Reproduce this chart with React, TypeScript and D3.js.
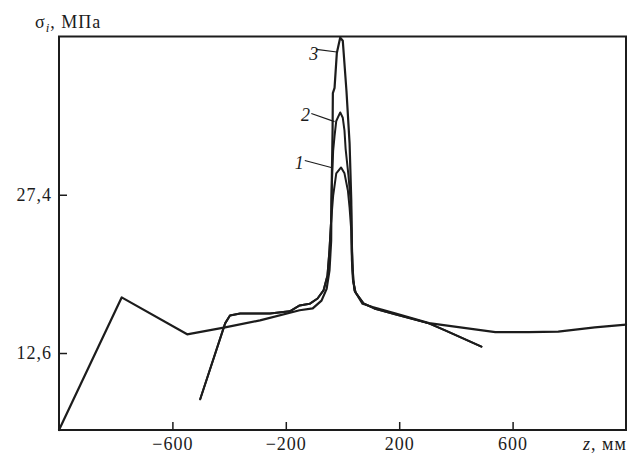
import { useRef, useEffect } from 'react'
import * as d3 from 'd3'

const WIDTH = 635
const HEIGHT = 458
const FRAME = { left: 59, right: 626, top: 36.5, bottom: 430 }

const X_DOMAIN = [-1000, 1000]
const Y_DOMAIN = [5.4, 42.2]
const X_TICKS = [-600, -200, 200, 600]
const Y_TICKS = [12.6, 27.4]
const Y_TICK_LABELS = ['12,6', '27,4']

// curve 3: zigzag from the corner, tallest peak, long right tail
const Z3 = [-1000, -779, -548, -414, -291, -151, -105, -74, -56, -46, -40, -39, -35, -34, -28, -20, -8, 1, 14, 25, 31, 33, 36, 42, 71, 106, 188, 305, 422, 539, 656, 761, 890, 1000]
const S3 = [5.4, 17.8, 14.35, 15.0, 15.65, 16.6, 16.77, 17.5, 18.6, 20.3, 23.1, 26.8, 33.4, 36.9, 37.4, 40.65, 42.1, 41.8, 37.1, 32.2, 26.85, 22.2, 20.3, 18.45, 17.2, 16.9, 16.3, 15.4, 14.97, 14.56, 14.56, 14.6, 15.0, 15.25]

// curve 1: starts low, lowest peak, short right tail
const Z1 = [-502, -414, -397, -361, -256, -186, -151, -116, -88, -67, -53, -46, -40, -33, -22, -5, 7, 19, 25, 31, 33, 37, 46, 74, 112, 189, 305, 364, 490]
const S1 = [8.28, 15.37, 16.1, 16.3, 16.3, 16.5, 17.05, 17.2, 17.7, 18.45, 19.85, 22.2, 25.0, 27.3, 29.4, 29.95, 29.4, 27.8, 26.2, 24.05, 21.25, 19.4, 18.26, 17.24, 16.77, 16.2, 15.37, 14.7, 13.2]

// curve 2: same flanks as curve 1, middle peak
const Z2 = [-502, -414, -397, -361, -256, -186, -151, -116, -88, -67, -53, -46, -40, -37, -33, -28, -22, -8, 1, 7, 11, 21, 30, 33, 37, 46, 74, 112, 189, 305, 364, 490]
const S2 = [8.28, 15.37, 16.1, 16.3, 16.3, 16.5, 17.05, 17.2, 17.7, 18.45, 19.85, 22.2, 25.0, 28.8, 31.5, 32.9, 34.3, 35.1, 34.6, 33.4, 31.7, 29.2, 26.4, 23.1, 19.4, 18.26, 17.24, 16.77, 16.2, 15.37, 14.7, 13.2]

// curve labels: text anchor point and leader line (from, to) in data units
const LABELS = [
  { text: '3', at: [-117, 40.6], from: [-92, 41.0], to: [-20, 40.75] },
  { text: '2', at: [-146, 34.9], from: [-110, 35.0], to: [-28, 34.24] },
  { text: '1', at: [-168, 30.4], from: [-133, 30.6], to: [-40, 29.95] },
]

const FONT = '"Liberation Serif", "DejaVu Serif", serif'
const INK = '#1c1c1c'

export default function App() {
  const svgRef = useRef(null)

  useEffect(() => {
    const svg = d3.select(svgRef.current)
    svg.selectAll('*').remove()

    const x = d3.scaleLinear().domain(X_DOMAIN).range([FRAME.left, FRAME.right])
    const y = d3.scaleLinear().domain(Y_DOMAIN).range([FRAME.bottom, FRAME.top])

    // frame
    svg.append('rect')
      .attr('x', FRAME.left).attr('y', FRAME.top)
      .attr('width', FRAME.right - FRAME.left).attr('height', FRAME.bottom - FRAME.top)
      .attr('fill', 'none').attr('stroke', INK).attr('stroke-width', 2)

    // x axis, ticks pointing inward
    svg.append('g')
      .attr('transform', `translate(0,${FRAME.bottom})`)
      .call(d3.axisBottom(x).tickValues(X_TICKS).tickSize(-8).tickPadding(7).tickFormat(d3.format('d')))
      .call(g => g.select('.domain').remove())
      .call(g => g.selectAll('.tick line').attr('stroke', INK).attr('stroke-width', 1.5))
      .call(g => g.selectAll('text').attr('fill', INK).attr('font-size', 18).attr('font-family', FONT)
        .attr('letter-spacing', 1))

    // y axis, ticks pointing inward
    svg.append('g')
      .attr('transform', `translate(${FRAME.left},0)`)
      .call(d3.axisLeft(y).tickValues(Y_TICKS).tickSize(-8).tickPadding(7)
        .tickFormat((d, i) => Y_TICK_LABELS[i]))
      .call(g => g.select('.domain').remove())
      .call(g => g.selectAll('.tick line').attr('stroke', INK).attr('stroke-width', 1.5))
      .call(g => g.selectAll('text').attr('fill', INK).attr('font-size', 18).attr('font-family', FONT)
        .attr('letter-spacing', 1))

    // axis titles
    const yt = svg.append('text').attr('x', 35).attr('y', 28)
      .attr('font-family', FONT).attr('font-size', 18).attr('fill', INK).attr('letter-spacing', 1)
    yt.append('tspan').text('σ')
    yt.append('tspan').attr('font-style', 'italic').attr('font-size', 13).attr('dy', 4).text('i')
    yt.append('tspan').attr('dy', -4).text(', МПа')

    const xt = svg.append('text').attr('x', 583).attr('y', 450)
      .attr('font-family', FONT).attr('font-size', 18).attr('fill', INK).attr('letter-spacing', 1)
    xt.append('tspan').attr('font-style', 'italic').text('z')
    xt.append('tspan').text(', мм')

    // curves
    const line = d3.line().x(d => x(d[0])).y(d => y(d[1])).curve(d3.curveLinear)
    const series = [
      { z: Z3, s: S3, w: 2.2 },
      { z: Z2, s: S2, w: 2 },
      { z: Z1, s: S1, w: 2 },
    ]
    series.forEach(c => {
      svg.append('path')
        .datum(c.z.map((z, i) => [z, c.s[i]]))
        .attr('d', line)
        .attr('fill', 'none').attr('stroke', INK).attr('stroke-width', c.w)
        .attr('stroke-linejoin', 'round').attr('stroke-linecap', 'round')
    })

    // labels with leaders
    LABELS.forEach(l => {
      svg.append('line')
        .attr('x1', x(l.from[0])).attr('y1', y(l.from[1]))
        .attr('x2', x(l.to[0])).attr('y2', y(l.to[1]))
        .attr('stroke', INK).attr('stroke-width', 1.2)
      svg.append('text')
        .attr('x', x(l.at[0])).attr('y', y(l.at[1]))
        .attr('dy', '0.35em')
        .attr('font-family', FONT).attr('font-style', 'italic').attr('font-size', 18).attr('fill', INK)
        .text(l.text)
    })
  }, [])

  return (
    <div style={{ position: 'absolute', left: 0, top: 0, width: WIDTH, height: HEIGHT, background: '#fff' }}>
      <svg ref={svgRef} width={WIDTH} height={HEIGHT} />
    </div>
  )
}
